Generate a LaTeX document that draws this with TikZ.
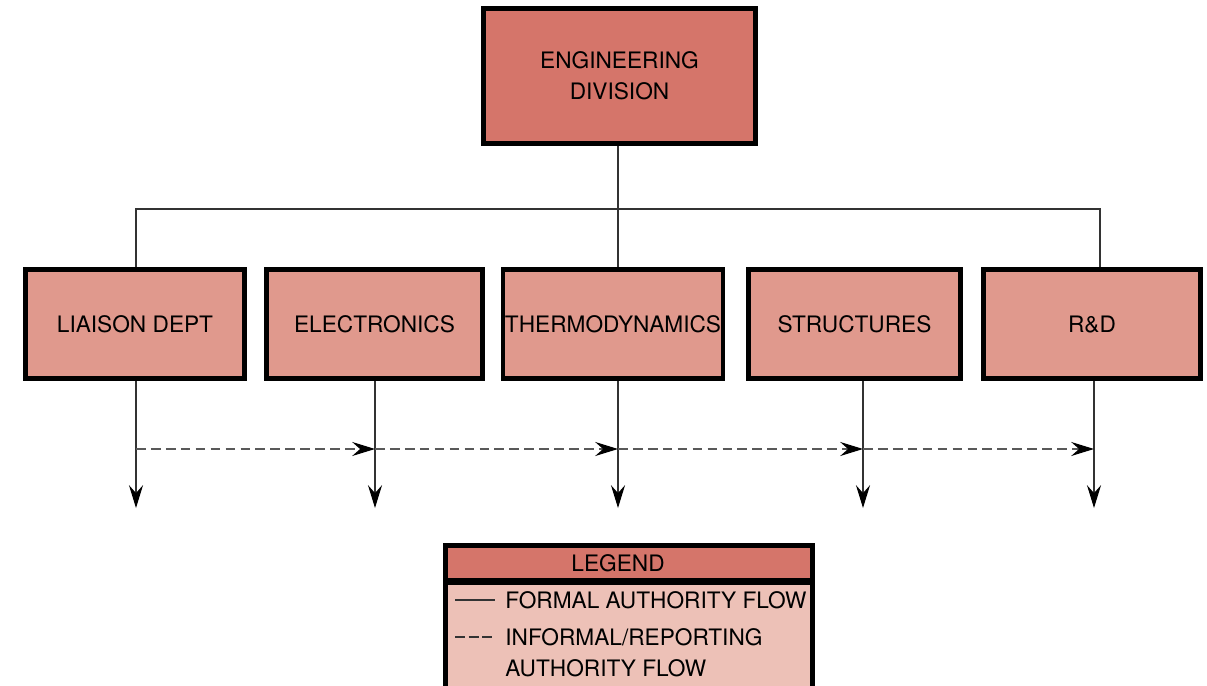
\documentclass[tikz,border=0pt]{standalone}
\usepackage{fontspec}
\setmainfont{TeX Gyre Heros}
\usetikzlibrary{arrows.meta}

\definecolor{divred}{RGB}{213,117,106}
\definecolor{deptred}{RGB}{224,153,141}
\definecolor{legendpink}{RGB}{237,193,183}

\tikzset{
    box/.style={draw=black, line width=2.8pt, inner sep=0pt, align=center,
        font=\fontsize{12.9}{17.5}\selectfont, text=black},
    dept/.style={box, fill=deptred, minimum height=2.18cm},
    link/.style={draw=black!80, line width=0.65pt},
    informal/.style={draw=black!65, line width=0.65pt, dash pattern=on 5.5pt off 3pt},
    tip/.style={-{Stealth[length=13pt,width=8pt,inset=4.5pt,black]}}
}

\newcommand\deptbox[4]{
    \node[dept, minimum width=#3cm] (#1) at (#2,324) {#4};
}
\newcommand\dropline[2]{
    \coordinate (#1end) at (#2,508);
    \coordinate (#1mid) at (#2,449);
    \draw[link, tip] (#1.south -| #1end) -- (#1end);
}

\begin{document}
\begin{tikzpicture}[x=0.02cm, y=-0.02cm]
    \useasboundingbox (0,0) rectangle (1207,686);
    \clip (0,0) rectangle (1207,686);

    \node[box, fill=divred, minimum width=5.44cm, minimum height=2.7cm] (division) at (619.5,76) {ENGINEERING\\DIVISION};

    \deptbox{liaison}{135}{4.38}{LIAISON DEPT}
    \deptbox{electronics}{374.5}{4.32}{ELECTRONICS}
    \deptbox{thermo}{613}{4.4}{THERMODYNAMICS}
    \deptbox{structures}{854.5}{4.25}{STRUCTURES}
    \deptbox{rnd}{1092}{4.35}{R\&D}

    \coordinate (bus) at (618,209);
    \coordinate (busleft) at (136,209);
    \coordinate (busright) at (1100,209);
    \draw[link] (division.south -| bus) -- (thermo.north -| bus);
    \draw[link] (liaison.north -| busleft) -- (busleft) -- (busright) -- (rnd.north -| busright);

    \dropline{liaison}{136}
    \dropline{electronics}{375}
    \dropline{thermo}{618}
    \dropline{structures}{863}
    \dropline{rnd}{1094}

    \draw[informal, tip] (liaisonmid) -- (electronicsmid);
    \draw[informal, tip] (electronicsmid) -- (thermomid);
    \draw[informal, tip] (thermomid) -- (structuresmid);
    \draw[informal, tip] (structuresmid) -- (rndmid);

    \node[box, fill=legendpink, minimum width=7.34cm, minimum height=3cm, anchor=north] (legendbody) at (629,580.5) {};
    \node[box, fill=divred, minimum width=7.34cm, minimum height=0.7cm] (legend) at (629,563) {LEGEND\hspace*{12.5pt}};

    \node[anchor=west, inner sep=0pt, align=left, font=\fontsize{12.9}{17.5}\selectfont] (formal) at (505,600) {FORMAL AUTHORITY FLOW};
    \node[anchor=west, inner sep=0pt, align=left, font=\fontsize{12.9}{17.5}\selectfont] (reporting) at (505,653) {INFORMAL/REPORTING\\AUTHORITY FLOW};
    \draw[link] (455,600) -- (495,600);
    \draw[link, dash pattern=on 5.6pt off 2.2pt] (455,637) -- (495,637);

\end{tikzpicture}
\end{document}
